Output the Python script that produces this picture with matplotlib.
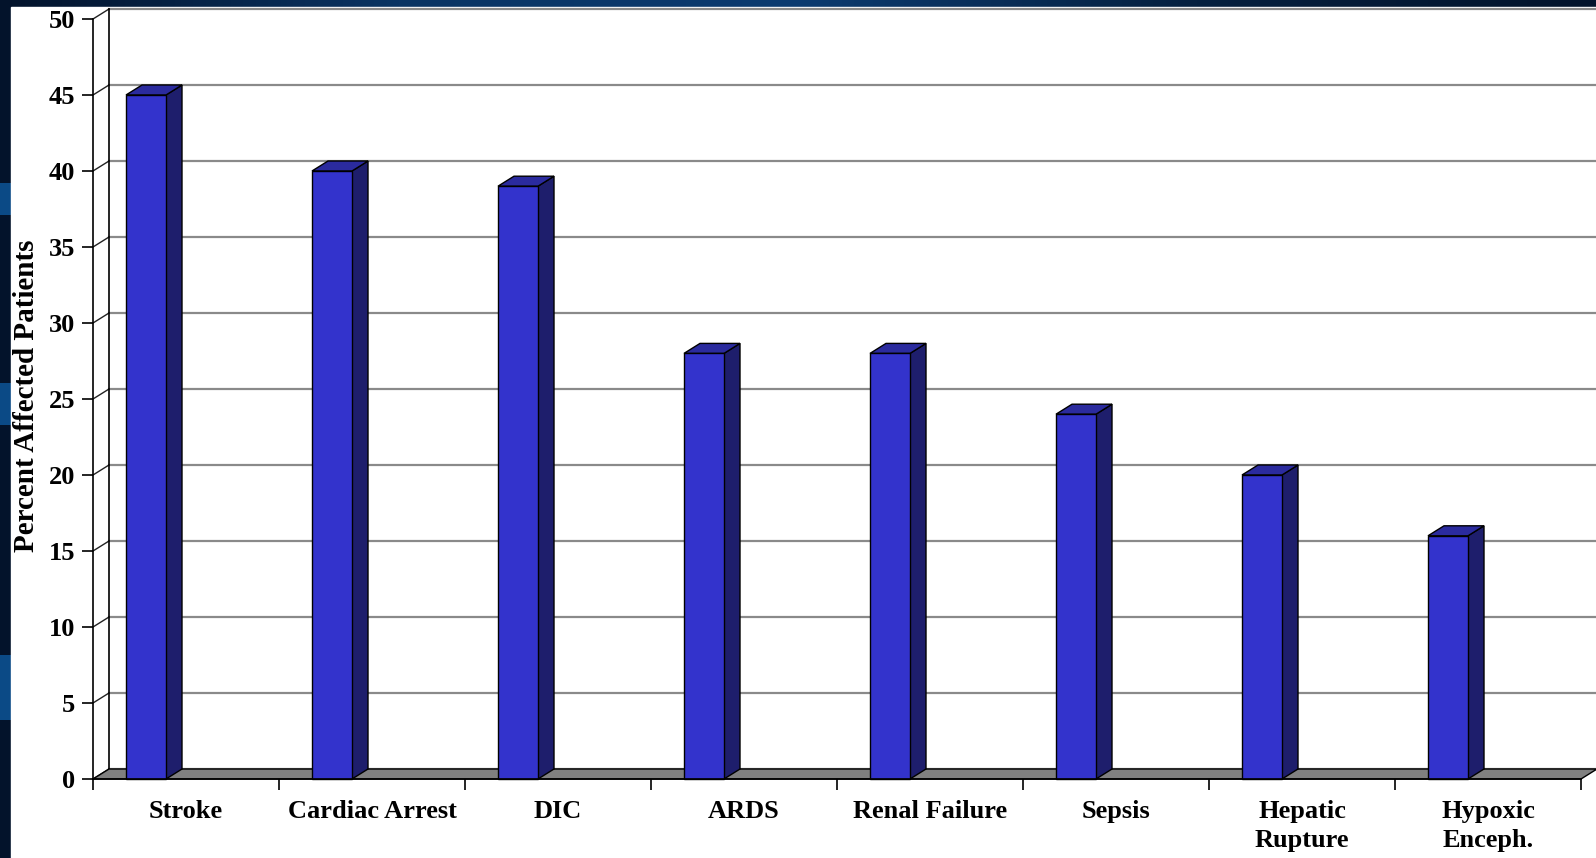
import numpy as np
import matplotlib
matplotlib.use('Agg')
import matplotlib.pyplot as plt
from matplotlib.patches import Polygon, Rectangle
from matplotlib.colors import LinearSegmentedColormap

# data
categories = ['Stroke', 'Cardiac Arrest', 'DIC', 'ARDS', 'Renal Failure',
              'Sepsis', 'Hepatic\nRupture', 'Hypoxic\nEnceph.']
percent = [45, 40, 39, 28, 28, 24, 20, 16]
yticks = [0, 5, 10, 15, 20, 25, 30, 35, 40, 45, 50]

plt.rcParams['font.family'] = ['Liberation Serif', 'DejaVu Serif']
plt.rcParams['font.weight'] = 'bold'

W, H = 1596, 858
fig = plt.figure(figsize=(W / 100, H / 100), dpi=100)
fig.patch.set_facecolor('#061a36')

# slide background (navy gradient) behind the white chart panel
bg = fig.add_axes([0, 0, 1, 1], zorder=-10)
cmap = LinearSegmentedColormap.from_list('slide', ['#03132b', '#0a3463', '#0c3b70', '#05203f', '#03142c'])
bg.imshow(np.linspace(0, 1, 256).reshape(1, -1), cmap=cmap, aspect='auto', extent=[0, 1, 0, 1])
bg.set_xlim(0, 1)
bg.set_ylim(0, 1)
bg.axis('off')
for y0, y1 in [(183, 215), (383, 425), (655, 720)]:
    bg.add_patch(Rectangle((0, 1 - y1 / H), 11 / W, (y1 - y0) / H, color='#0b4a86', lw=0))
fig.add_artist(Rectangle((11 / W, 0), 1 - 11 / W, (H - 7) / H, transform=fig.transFigure,
                         color='white', zorder=-5))

# front plane of the 3D chart
ax = fig.add_axes([93 / W, 79 / H, 1488 / W, 760 / H])
ax.set_xlim(0, 8)
ax.set_ylim(0, 50)
ax.patch.set_alpha(0)

DX = 16 / 186.0   # depth offset in category units
DY = 10 / 15.2    # depth offset in value units
BW = 40 / 186.0   # bar width
OFF = 33 / 186.0  # bar offset inside category

# back wall gridlines and side wall
for v in yticks:
    ax.plot([DX, 8.3], [v + DY, v + DY], color='#8a8a8a', lw=1.6, clip_on=False, zorder=1)
    ax.plot([0, DX], [v, v + DY], color='#222222', lw=1.0, clip_on=False, zorder=1)
ax.plot([DX, DX], [DY, 50 + DY], color='black', lw=1.2, clip_on=False, zorder=1)

# floor
ax.add_patch(Polygon([(0, 0), (8, 0), (8 + DX, DY), (DX, DY)], closed=True,
                     fc='#808080', ec='black', lw=1.0, clip_on=False, zorder=2))

# bars
x0 = np.arange(len(categories)) + OFF
ax.bar(x0, percent, width=BW, align='edge', color='#3333cc', edgecolor='black',
       lw=1.0, zorder=5, clip_on=False)
for x, v in zip(x0, percent):
    ax.add_patch(Polygon([(x + BW, 0), (x + BW + DX, DY), (x + BW + DX, v + DY), (x + BW, v)],
                         closed=True, fc='#1e1e6c', ec='black', lw=1.0, clip_on=False, zorder=4))
    ax.add_patch(Polygon([(x, v), (x + BW, v), (x + BW + DX, v + DY), (x + DX, v + DY)],
                         closed=True, fc='#2b2b9e', ec='black', lw=1.0, clip_on=False, zorder=4))

# axes
for s in ['top', 'right']:
    ax.spines[s].set_visible(False)
for s in ['left', 'bottom']:
    ax.spines[s].set_linewidth(1.2)
    ax.spines[s].set_zorder(6)

ax.set_yticks(yticks)
ax.set_yticklabels([str(v) for v in yticks])
ax.tick_params(axis='y', direction='out', length=8, width=1.2, pad=5, labelsize=19)

ax.set_xticks(np.arange(9))
ax.set_xticklabels([''] * 9)
ax.set_xticks(np.arange(8) + 0.5, minor=True)
ax.set_xticklabels(categories, minor=True, fontsize=19, linespacing=1.35)
ax.tick_params(axis='x', which='major', direction='out', length=8, width=1.2)
ax.tick_params(axis='x', which='minor', length=0, pad=15)

fig.text(27 / W, 1 - 396 / H, 'Percent Affected Patients', rotation=90,
         ha='center', va='center', fontsize=21)

plt.savefig('out.png', dpi=100, facecolor=fig.get_facecolor())
